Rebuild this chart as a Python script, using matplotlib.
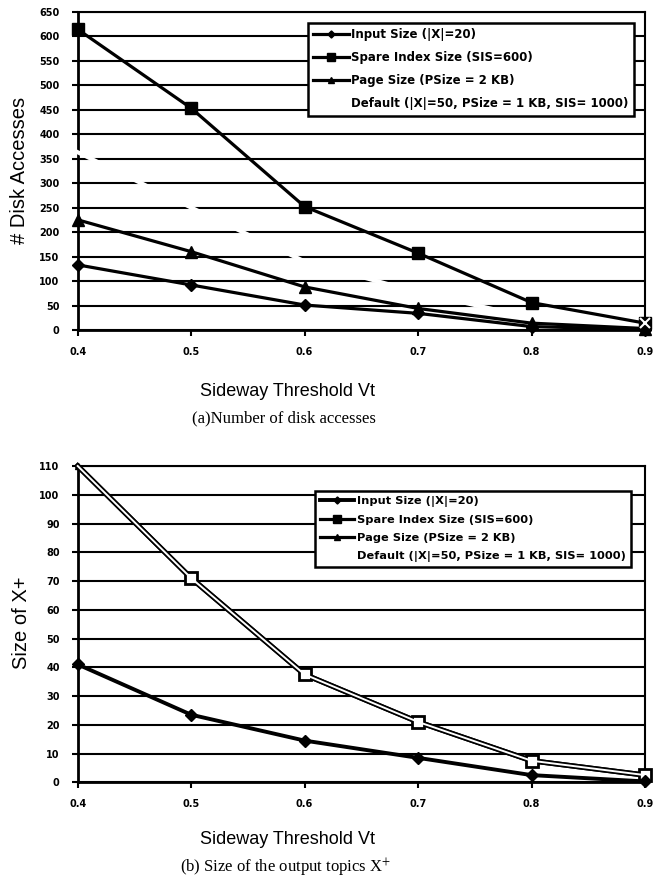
import matplotlib
matplotlib.use("Agg")
import matplotlib.pyplot as plt

plt.rcParams['font.family'] = ['Liberation Sans', 'DejaVu Sans']
plt.rcParams['mathtext.fontset'] = 'stix'

# threshold values on the x axis
thresholds = [0.4, 0.5, 0.6, 0.7, 0.8, 0.9]

# (a) number of disk accesses
a_input = [133, 92, 51, 34, 7, 1]
a_spare = [614, 453, 252, 157, 56, 14]
a_page = [225, 160, 88, 44, 14, 3]
a_default = [363, 250, 140, 77, 25, 14]

# (b) size of X+
b_input = [41, 23.5, 14.5, 8.5, 2.5, 0.3]
b_spare = [110, 71, 37.5, 21, 7.5, 2.5]
b_page = [110, 71, 37.5, 21, 7.5, 2.5]
b_default = [110, 71, 37.5, 21, 7.5, 2.5]

labels = ["Input Size (|X|=20)", "Spare Index Size (SIS=600)",
          "Page Size (PSize = 2 KB)", "Default (|X|=50, PSize = 1 KB, SIS= 1000)"]

W, H = 654, 889
fig = plt.figure(figsize=(W / 100, H / 100), dpi=100)


def px_axes(left, top, right, bottom):
    return fig.add_axes([left / W, 1 - bottom / H, (right - left) / W, (bottom - top) / H])


def style_axes(ax, ymax, ystep):
    ax.set_xlim(0.4, 0.9)
    ax.set_ylim(0, ymax)
    ax.set_xticks(thresholds)
    ax.set_xticklabels(["%.1f" % t for t in thresholds])
    ax.set_yticks(range(0, ymax + 1, ystep))
    ax.grid(axis='y', color='black', linewidth=1.5)
    ax.set_axisbelow(True)
    for s in ax.spines.values():
        s.set_linewidth(1.5)
    ax.spines['left'].set_linewidth(2)
    ax.spines['bottom'].set_linewidth(2)
    ax.tick_params(axis='x', direction='out', length=4, width=1.5, pad=8)
    ax.tick_params(axis='y', direction='out', length=4, width=1.5, pad=9)
    for t in ax.get_xticklabels() + ax.get_yticklabels():
        t.set_fontsize(7)
        t.set_fontweight('bold')
        t.set_family('DejaVu Sans')


def add_legend(ax, handles, x, y, size, spacing):
    leg = ax.legend(handles, labels, loc='upper left', bbox_to_anchor=(x / W, 1 - y / H),
                    bbox_transform=fig.transFigure, borderaxespad=0, fancybox=False,
                    framealpha=1, edgecolor='black', handlelength=3.0, handletextpad=0.2,
                    labelspacing=spacing, borderpad=0.45, markerscale=0.6,
                    prop={'size': size, 'weight': 'bold', 'family': 'DejaVu Sans'})
    leg.get_frame().set_linewidth(1.8)
    leg.set_zorder(10)
    return leg


# ---- chart (a)
ax1 = px_axes(77.7, 11.7, 645, 330)
style_axes(ax1, 650, 50)
dflt1, = ax1.plot(thresholds, a_default, color='white', lw=3, zorder=2.6, clip_on=False)
l_in, = ax1.plot(thresholds, a_input, color='black', lw=2.3, marker='D', ms=6, zorder=4, clip_on=False)
l_sp, = ax1.plot(thresholds, a_spare, color='black', lw=2.3, marker='s', ms=9, zorder=4, clip_on=False)
l_pg, = ax1.plot(thresholds, a_page, color='black', lw=2.3, marker='^', ms=8, zorder=4, clip_on=False)
ax1.plot(thresholds[-1:], a_default[-1:], ls='none', marker='x', ms=7, mew=1.5, color='white',
         zorder=5, clip_on=False)
add_legend(ax1, [l_in, l_sp, l_pg, dflt1], 308, 23, 8.5, 0.85)

fig.text(20 / W, 1 - 170 / H, "# Disk Accesses", rotation=90, ha='center', va='center', fontsize=14.5)
fig.text(288 / W, 1 - 392 / H, "Sideway Threshold Vt", ha='center', va='center', fontsize=13)
fig.text(284 / W, 1 - 418 / H, "(a)Number of disk accesses", ha='center', va='center',
         fontsize=12, family='Liberation Serif')

# ---- chart (b)
ax2 = px_axes(77.7, 466, 645, 782.3)
style_axes(ax2, 110, 10)
m_pg, = ax2.plot(thresholds, b_page, color='black', lw=3.8, marker='^', ms=4, zorder=3, clip_on=False)
m_sp, = ax2.plot(thresholds, b_spare, color='black', lw=3.8, marker='s', ms=8, mfc='white', mec='black',
                 mew=2, markevery=[1, 2, 3, 4, 5], zorder=3.5, clip_on=False)
dflt2, = ax2.plot(thresholds, b_default, color='white', lw=1.4, zorder=3.6, clip_on=False)
m_in, = ax2.plot(thresholds, b_input, color='black', lw=2.8, marker='D', ms=6, zorder=4, clip_on=False)
add_legend(ax2, [m_in, l_sp, l_pg, dflt2], 315, 491, 8.2, 0.7)

fig.text(22 / W, 1 - 623 / H, "Size of X+", rotation=90, ha='center', va='center', fontsize=14.5)
fig.text(288 / W, 1 - 840 / H, "Sideway Threshold Vt", ha='center', va='center', fontsize=13)
fig.text(285 / W, 1 - 868 / H, "(b) Size of the output topics X$^{+}$", ha='center', va='center',
         fontsize=12, family='Liberation Serif')

fig.savefig("out.png", dpi=100)
